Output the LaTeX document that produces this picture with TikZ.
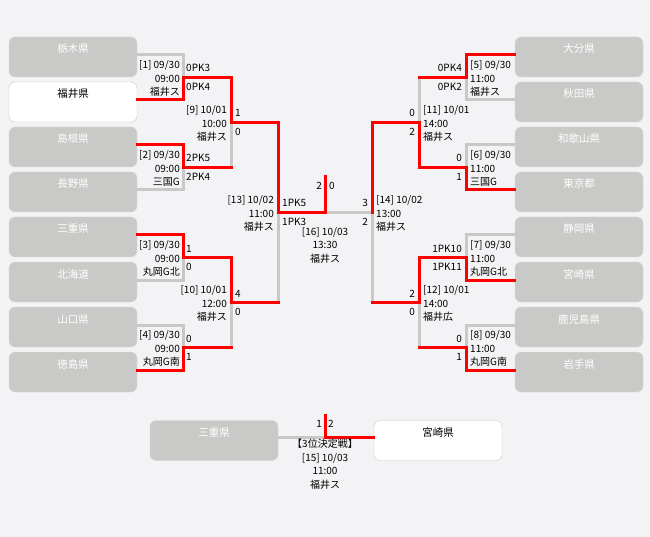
\documentclass[tikz,border=0pt]{standalone}
\usepackage{fontspec}
\newfontfamily\jp{Noto Sans CJK JP}
\newcommand\jpteam{\jp\fontsize{10.5}{12}\selectfont}
\newcommand\jpinfo{\jp\fontsize{10}{13.5}\selectfont}
\definecolor{bgcol}{HTML}{F3F2F5}
\definecolor{boxgray}{HTML}{C9CAC7}
\definecolor{linegray}{HTML}{C8C8C8}
\definecolor{winred}{HTML}{FF0000}
\tikzset{
  team/.style={draw=boxgray!70!white, fill=boxgray, rounded corners=6pt,
    minimum width=128pt, minimum height=40pt, inner ysep=4pt,
    text height=9pt, text depth=17pt, text=white, font=\jpteam},
  champ/.style={team, fill=white, draw=linegray, text=black},
  bracket/.style={draw=linegray, line width=3pt},
  winline/.style={draw=winred, line width=3pt, line cap=rect},
  linfo/.style={font=\jpinfo, inner sep=0pt, align=right, anchor=north east},
  rinfo/.style={font=\jpinfo, inner sep=0pt, align=left, anchor=north west},
  cinfo/.style={font=\jpinfo, inner sep=0pt, align=center, anchor=north},
  score/.style={font=\jpinfo, inner sep=0pt, anchor=base west},
  rscore/.style={font=\jpinfo, inner sep=0pt, anchor=base east}
}

\begin{document}
\begin{tikzpicture}[x=1pt,y=-1pt]
  \fill[bgcol] (0,0) rectangle (650,537);
  \useasboundingbox (0,0) rectangle (650,537);

  % teams
  \foreach \i/\name/\sty in {1/栃木県/team,2/福井県/champ,3/島根県/team,4/長野県/team,
      5/三重県/team,6/北海道/team,7/山口県/team,8/徳島県/team} {
    \node[\sty] (l\i) at (73,12+45*\i) {\name};
    \coordinate (l\i-in) at ([yshift=2pt]l\i.east);
  }
  \foreach \i/\name in {1/大分県,2/秋田県,3/和歌山県,4/東京都,
      5/静岡県,6/宮崎県,7/鹿児島県,8/岩手県} {
    \node[team] (r\i) at (579,12+45*\i) {\name};
    \coordinate (r\i-in) at ([yshift=2pt]r\i.west);
  }
  \node[team] (s1) at (214,440.5) {三重県};
  \node[champ] (s2) at (438,440.5) {宮崎県};
  \coordinate (s1-in) at ([yshift=3.5pt]s1.east);
  \coordinate (s2-in) at ([yshift=3.5pt]s2.west);

  % bracket points
  \coordinate (L1) at (183,77.5);
  \coordinate (L2) at (183,167.5);
  \coordinate (L3) at (183,257.5);
  \coordinate (L4) at (183,347.5);
  \coordinate (L9) at (231,122.5);
  \coordinate (L10) at (231,302.5);
  \coordinate (L13) at (278,212.5);
  \coordinate (R5) at (466,77.5);
  \coordinate (R6) at (466,167.5);
  \coordinate (R7) at (466,257.5);
  \coordinate (R8) at (466,347.5);
  \coordinate (R11) at (419,122.5);
  \coordinate (R12) at (419,302.5);
  \coordinate (R14) at (372,212.5);
  \coordinate (F16) at (325,212.5);
  \coordinate (F16top) at (325,177);
  \coordinate (T15) at (325,437);
  \coordinate (T15top) at (325,415);

  % gray lines
  \foreach \m/\a/\b in {L1/l1/l2,L2/l3/l4,L3/l5/l6,L4/l7/l8,
      R5/r1/r2,R6/r3/r4,R7/r5/r6,R8/r7/r8}
    \draw[bracket] (\a-in) -| (\m) |- (\b-in);
  \draw[bracket] (L1) -| (L9) |- (L2);
  \draw[bracket] (L3) -| (L10) |- (L4);
  \draw[bracket] (L9) -| (L13) |- (L10);
  \draw[bracket] (R5) -| (R11) |- (R6);
  \draw[bracket] (R7) -| (R12) |- (R8);
  \draw[bracket] (R11) -| (R14) |- (R12);
  \draw[bracket] (L13) -- (R14);
  \draw[bracket] (s1-in) -- (s2-in);

  % winners
  \draw[winline] (l2-in) -| (L1) -| (L9) -| (L13) -- (F16) -- (F16top);
  \draw[winline] (l3-in) -| (L2) -- (L2 -| L9);
  \draw[winline] (l5-in) -| (L3) -| (L10) -- (L10 -| L13);
  \draw[winline] (l8-in) -| (L4) -- (L4 -| L10);
  \draw[winline] (r1-in) -| (R5) -- (R5 -| R11);
  \draw[winline] (r4-in) -| (R6) -| (R11) -| (R14);
  \draw[winline] (r6-in) -| (R7) -| (R12) -- (R12 -| R14);
  \draw[winline] (r8-in) -| (R8) -- (R8 -| R12);
  \draw[winline] (s2-in) -- (T15) -- (T15top);

  % scores
  \foreach \m/\a/\b/\dx in {L1/0PK3/0PK4/3,L2/2PK5/2PK4/3,L3/1/0/3,L4/0/1/3,
      L9/1/0/4,L10/4/0/4,L13/1PK5/1PK3/4} {
    \node[score] (\m a) at ([shift={(\dx,-5.5)}]\m) {\a};
    \node[score] (\m b) at ([shift={(\dx,13)}]\m) {\b};
  }
  \foreach \m/\a/\b in {R5/0PK4/0PK2,R6/0/1,R7/1PK10/1PK11,R8/0/1,
      R11/0/2,R12/2/0,R14/3/2} {
    \node[rscore] (\m a) at ([shift={(-4,-5.5)}]\m) {\a};
    \node[rscore] (\m b) at ([shift={(-4,13)}]\m) {\b};
  }
  \node[rscore] (F16a) at ([shift={(-3,-23)}]F16) {2};
  \node[score] (F16b) at ([shift={(4,-23)}]F16) {0};
  \node[rscore] (T15a) at ([shift={(-3,-9.5)}]T15) {1};
  \node[score] (T15b) at ([shift={(3,-9.5)}]T15) {2};

  % match info
  \node[linfo] (L1i) at ([shift={(-3,-17)}]L1) {[1] 09/30\\09:00\\福井ス};
  \node[linfo] (L2i) at ([shift={(-3,-17)}]L2) {[2] 09/30\\09:00\\三国G};
  \node[linfo] (L3i) at ([shift={(-3,-17)}]L3) {[3] 09/30\\09:00\\丸岡G北};
  \node[linfo] (L4i) at ([shift={(-3,-17)}]L4) {[4] 09/30\\09:00\\丸岡G南};
  \node[linfo] (L9i) at ([shift={(-4,-17)}]L9) {[9] 10/01\\10:00\\福井ス};
  \node[linfo] (L10i) at ([shift={(-4,-17)}]L10) {[10] 10/01\\12:00\\福井ス};
  \node[linfo] (L13i) at ([shift={(-4,-17)}]L13) {[13] 10/02\\11:00\\福井ス};
  \node[rinfo] (R5i) at ([shift={(4,-17)}]R5) {[5] 09/30\\11:00\\福井ス};
  \node[rinfo] (R6i) at ([shift={(4,-17)}]R6) {[6] 09/30\\11:00\\三国G};
  \node[rinfo] (R7i) at ([shift={(4,-17)}]R7) {[7] 09/30\\11:00\\丸岡G北};
  \node[rinfo] (R8i) at ([shift={(4,-17)}]R8) {[8] 09/30\\11:00\\丸岡G南};
  \node[rinfo] (R11i) at ([shift={(4,-17)}]R11) {[11] 10/01\\14:00\\福井ス};
  \node[rinfo] (R12i) at ([shift={(4,-17)}]R12) {[12] 10/01\\14:00\\福井広};
  \node[rinfo] (R14i) at ([shift={(4,-17)}]R14) {[14] 10/02\\13:00\\福井ス};
  \node[cinfo] (F16i) at ([yshift=-14.5pt]F16) {[16] 10/03\\13:30\\福井ス};
  \node[cinfo] (T15i) at ([yshift=-2pt]T15) {【3位決定戦】\\\relax[15] 10/03\\11:00\\福井ス};
\end{tikzpicture}
\end{document}
